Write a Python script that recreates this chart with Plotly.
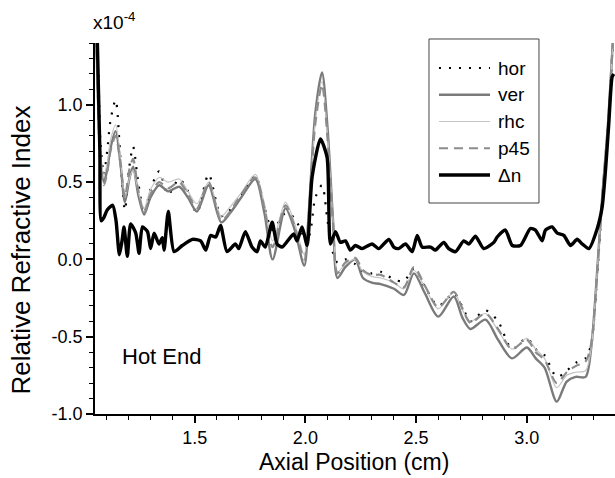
import plotly.graph_objects as go

# ---- data (units of 1e-4) ----
x_pol = [1.055, 1.065, 1.075, 1.09, 1.105, 1.12, 1.143, 1.165, 1.185, 1.205, 1.222, 1.245,
         1.272, 1.30, 1.34, 1.38, 1.43, 1.47, 1.51, 1.563, 1.62, 1.66, 1.71, 1.774, 1.815,
         1.852, 1.91, 1.95, 1.995, 2.015, 2.045, 2.075, 2.10, 2.125, 2.145, 2.18, 2.225,
         2.26, 2.30, 2.34, 2.40, 2.445, 2.49, 2.54, 2.60, 2.67, 2.71, 2.745, 2.813, 2.87,
         2.933, 3.0, 3.04, 3.08, 3.135, 3.18, 3.22, 3.265, 3.29, 3.32, 3.34, 3.365, 3.39]

hor = [1.45, 1.20, 0.75, 0.55, 0.70, 0.90, 1.03, 0.65, 0.32, 0.60, 0.73, 0.50,
       0.30, 0.45, 0.57, 0.42, 0.52, 0.44, 0.30, 0.55, 0.28, 0.32, 0.41, 0.54, 0.34,
       0.19, 0.30, 0.27, 0.15, 0.15, 0.40, 0.48, 0.25, 0.04, -0.02, 0.00, -0.03,
       -0.08, -0.09, -0.08, -0.13, -0.14, -0.06, -0.18, -0.30, -0.22, -0.31, -0.40, -0.33, -0.40,
       -0.58, -0.51, -0.58, -0.62, -0.76, -0.72, -0.67, -0.64, -0.55, -0.05, 0.38, 0.83, 1.45]

ver = [1.45, 1.00, 0.65, 0.50, 0.58, 0.72, 0.83, 0.62, 0.37, 0.52, 0.60, 0.42,
       0.29, 0.40, 0.48, 0.44, 0.47, 0.40, 0.31, 0.48, 0.24, 0.30, 0.40, 0.52, 0.30,
       0.00, 0.33, 0.20, -0.04, 0.30, 0.95, 1.21, 0.85, 0.25, -0.12, -0.05, 0.00,
       -0.12, -0.15, -0.16, -0.19, -0.23, -0.09, -0.22, -0.37, -0.24, -0.38, -0.45, -0.39, -0.52,
       -0.64, -0.57, -0.64, -0.70, -0.92, -0.79, -0.76, -0.76, -0.58, -0.02, 0.40, 0.85, 1.45]

rhc = [1.45, 1.05, 0.68, 0.55, 0.62, 0.77, 0.87, 0.65, 0.40, 0.52, 0.58, 0.44,
       0.33, 0.45, 0.53, 0.50, 0.52, 0.44, 0.36, 0.50, 0.28, 0.34, 0.43, 0.55, 0.36,
       0.12, 0.37, 0.24, 0.03, 0.30, 0.90, 1.15, 0.80, 0.25, -0.08, -0.03, 0.00,
       -0.08, -0.11, -0.12, -0.15, -0.19, -0.07, -0.18, -0.32, -0.21, -0.33, -0.40, -0.35, -0.46,
       -0.58, -0.51, -0.58, -0.64, -0.83, -0.75, -0.73, -0.72, -0.58, -0.03, 0.40, 0.85, 1.45]

p45 = [1.45, 0.95, 0.60, 0.48, 0.56, 0.70, 0.80, 0.62, 0.40, 0.58, 0.65, 0.45,
       0.30, 0.42, 0.50, 0.46, 0.50, 0.42, 0.33, 0.50, 0.25, 0.31, 0.42, 0.53, 0.33,
       0.08, 0.35, 0.22, 0.00, 0.28, 0.88, 1.13, 0.78, 0.22, -0.09, -0.02, 0.01,
       -0.07, -0.10, -0.10, -0.15, -0.18, -0.05, -0.17, -0.31, -0.21, -0.32, -0.41, -0.35, -0.45,
       -0.58, -0.52, -0.60, -0.65, -0.80, -0.73, -0.69, -0.66, -0.55, -0.03, 0.40, 0.85, 1.45]

x_dn = [1.060, 1.072, 1.078, 1.09, 1.105, 1.13, 1.145, 1.16, 1.172, 1.181, 1.196, 1.211,
        1.234, 1.249, 1.264, 1.287, 1.301, 1.317, 1.339, 1.354, 1.362, 1.381, 1.407, 1.444,
        1.49, 1.527, 1.55, 1.572, 1.595, 1.617, 1.646, 1.684, 1.699, 1.729, 1.759, 1.782,
        1.797, 1.819, 1.850, 1.872, 1.895, 1.947, 1.962, 1.985, 2.008, 2.03, 2.068, 2.098,
        2.113, 2.136, 2.158, 2.181, 2.203, 2.226, 2.256, 2.301, 2.331, 2.377, 2.399, 2.421,
        2.452, 2.482, 2.505, 2.527, 2.565, 2.587, 2.602, 2.625, 2.647, 2.678, 2.715, 2.738,
        2.768, 2.805, 2.851, 2.866, 2.903, 2.934, 2.971, 3.016, 3.039, 3.069, 3.084, 3.114,
        3.137, 3.167, 3.197, 3.227, 3.25, 3.28, 3.318, 3.34, 3.355, 3.37, 3.385, 3.393]
dn = [1.45, 0.70, 0.25, 0.27, 0.32, 0.35, 0.25, 0.03, 0.12, 0.21, 0.02, 0.23,
      0.17, 0.04, 0.21, 0.18, 0.07, 0.17, 0.10, 0.14, 0.06, 0.31, 0.05, 0.09,
      0.13, 0.12, 0.06, 0.155, 0.145, 0.22, 0.05, 0.10, 0.07, 0.18, 0.08, 0.05,
      0.12, 0.08, 0.24, 0.10, 0.08, 0.165, 0.12, 0.21, 0.09, 0.53, 0.78, 0.66,
      0.10, 0.18, 0.11, 0.12, 0.06, 0.09, 0.07, 0.10, 0.07, 0.13, 0.08, 0.07,
      0.10, 0.05, 0.155, 0.08, 0.08, 0.06, 0.08, 0.11, 0.07, 0.05, 0.12, 0.10,
      0.15, 0.07, 0.11, 0.145, 0.19, 0.09, 0.09, 0.20, 0.19, 0.12, 0.19, 0.21,
      0.17, 0.155, 0.09, 0.13, 0.10, 0.07, 0.20, 0.34, 0.575, 0.88, 1.18, 1.20]

x_ticks = [1.5, 2.0, 2.5, 3.0]
x_ticklabels = ["1.5", "2.0", "2.5", "3.0"]
y_ticks = [-1.0, -0.5, 0.0, 0.5, 1.0]
y_ticklabels = ["-1.0", "-0.5", "0.0", "0.5", "1.0"]

FONT = "Liberation Sans, Arial, sans-serif"

styles = {
    "hor": dict(color="black", width=2.2, dash="2px,8px"),
    "ver": dict(color="#7a7a7a", width=2.4, dash="solid"),
    "rhc": dict(color="#c4c4c4", width=1.2, dash="solid"),
    "p45": dict(color="#8c8c8c", width=2.2, dash="9px,6px"),
    "Δn": dict(color="black", width=3.4, dash="solid"),
}
series = [("hor", x_pol, hor, 0.8), ("ver", x_pol, ver, 0.8), ("rhc", x_pol, rhc, 0.8),
          ("p45", x_pol, p45, 0.8), ("Δn", x_dn, dn, 0.6)]

fig = go.Figure()
for name, xs, ys, sm in series:
    st = styles[name]
    fig.add_trace(go.Scatter(x=xs, y=ys, name=name, mode="lines", showlegend=False,
                             line=dict(color=st["color"], width=st["width"], dash=st["dash"],
                                       shape="spline", smoothing=sm)))

axis_common = dict(showline=True, linecolor="black", linewidth=1.5, ticks="outside",
                   ticklen=7, tickwidth=1.5, tickcolor="black", showgrid=False, zeroline=False,
                   tickfont=dict(family=FONT, size=18, color="black"), mirror=False,
                   automargin=False, tickmode="array")

fig.update_xaxes(range=[1.05, 3.398], tickvals=x_ticks, ticktext=x_ticklabels,
                 minor=dict(dtick=0.1, tick0=1.0, ticks="outside", ticklen=4, tickcolor="black", tickwidth=1.2),
                 **axis_common)
fig.update_yaxes(range=[-1.0, 1.4], tickvals=y_ticks, ticktext=y_ticklabels,
                 minor=dict(dtick=0.1, tick0=0, ticks="outside", ticklen=4, tickcolor="black", tickwidth=1.2),
                 **axis_common)

# axis titles as annotations for exact placement
fig.add_annotation(x=0.498, y=-0.129, xref="paper", yref="paper", text="Axial Position (cm)",
                   showarrow=False, xanchor="center", yanchor="middle",
                   font=dict(family=FONT, size=23, color="black"))
fig.add_annotation(x=-0.142, y=0.441, xref="paper", yref="paper", text="Relative Refractive Index",
                   showarrow=False, xanchor="center", yanchor="middle", textangle=-90,
                   font=dict(family=FONT, size=26, color="black"))

fig.add_annotation(x=1.164, y=-0.627, xref="x", yref="y", text="Hot End", showarrow=False,
                   xanchor="left", yanchor="middle", font=dict(family=FONT, size=22, color="black"))
fig.add_annotation(x=-0.008, y=1.022, xref="paper", yref="paper", text="x10<sup>-4</sup>", showarrow=False,
                   xanchor="left", yanchor="bottom", font=dict(family=FONT, size=19, color="black"))

# ---- legend box (drawn in paper coordinates) ----
fig.add_shape(type="rect", xref="paper", yref="paper", x0=0.6423, x1=0.8538, y0=0.5687, y1=1.0108,
              line=dict(color="#444", width=1), fillcolor="white", layer="above")
leg_top, leg_step = 0.9326, 0.0721
for i, (name, _, _, _) in enumerate(series):
    st = styles[name]
    yy = leg_top - i * leg_step
    fig.add_shape(type="line", xref="paper", yref="paper", x0=0.6615, x1=0.7596, y0=yy, y1=yy,
                  line=dict(color=st["color"], width=st["width"], dash=st["dash"]), layer="above")
    fig.add_annotation(x=0.7712, y=yy, xref="paper", yref="paper", text=name, showarrow=False,
                       xanchor="left", yanchor="middle", font=dict(family=FONT, size=19, color="black"))

fig.update_layout(
    width=615, height=478,
    margin=dict(l=95, r=0, t=43, b=64),
    paper_bgcolor="white", plot_bgcolor="white",
    showlegend=False,
)

fig.write_html("out.html", config={"displayModeBar": False},
               post_script="document.body.style.margin='0';document.body.style.overflow='hidden';")
